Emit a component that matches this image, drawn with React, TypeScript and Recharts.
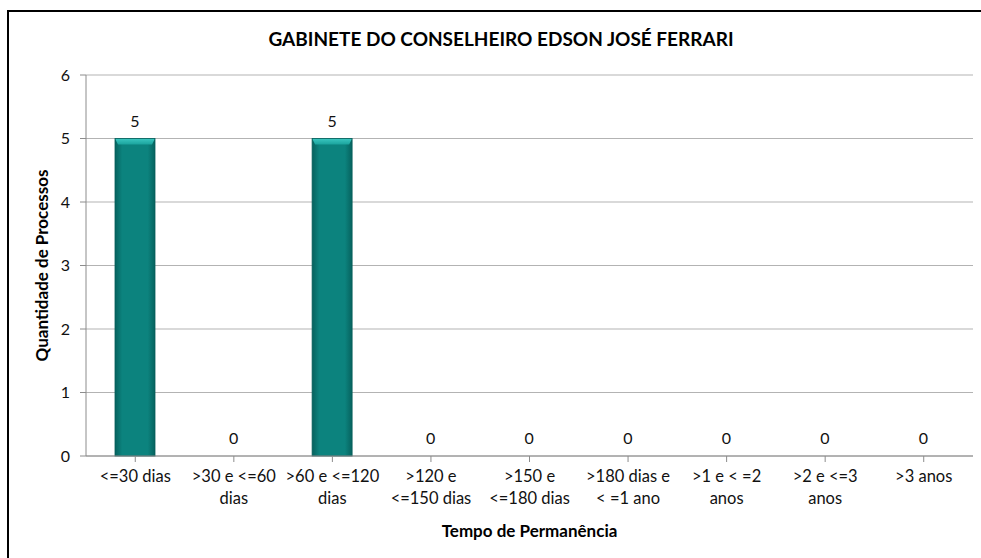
import React from 'react';
import {
  BarChart,
  Bar,
  XAxis,
  YAxis,
  CartesianGrid,
  LabelList
} from 'recharts';

// categories (line breaks as in the original axis)
const categories = [
  '<=30 dias',
  '>30 e <=60\ndias',
  '>60 e <=120\ndias',
  '>120 e\n<=150 dias',
  '>150 e\n<=180 dias',
  '>180 dias e\n< =1 ano',
  '>1 e < =2\nanos',
  '>2 e <=3\nanos',
  '>3 anos'
];
const processos = [5, 0, 5, 0, 0, 0, 0, 0, 0];
const yTicks = [0, 1, 2, 3, 4, 5, 6];

const data = categories.map((c, i) => ({ cat: c, value: processos[i] }));

const FONT = 'Lato, "Open Sans", sans-serif';

const CatTick = (props: any) => {
  const { x, y, payload } = props;
  const lines = String(payload.value).split('\n');
  return (
    <text x={x} y={y} textAnchor="middle" fontFamily={FONT} fontSize={16.5} fill="#111">
      {lines.map((l, i) => (
        <tspan key={i} x={x} dy={i === 0 ? 18 : 22}>{l}</tspan>
      ))}
    </text>
  );
};

const CylBar = (props: any) => {
  const { x, y, width, height } = props;
  if (!height || height <= 0) return null;
  const cap = 6;
  return (
    <g>
      <rect x={x} y={y} width={width} height={height} fill="url(#barBody)" />
      <path
        d={`M${x},${y} L${x + width},${y} L${x + width - 3},${y + cap} L${x + 3},${y + cap} Z`}
        fill="url(#barCap)"
      />
      <rect x={x} y={y} width={width} height={height} fill="none" stroke="#065e5a" strokeWidth={0.8} />
    </g>
  );
};

export default function App() {
  return (
    <div style={{ position: 'absolute', left: 0, top: 0, width: 981, height: 558, background: '#fff' }}>
      <div
        style={{
          position: 'absolute',
          left: 7,
          top: 10,
          width: 974,
          height: 548,
          borderTop: '2px solid #000',
          borderLeft: '2px solid #000',
          boxSizing: 'border-box'
        }}
      />
      <div
        style={{
          position: 'absolute',
          left: 0,
          top: 27,
          width: 1002,
          textAlign: 'center',
          fontFamily: FONT,
          fontWeight: 'bold',
          fontSize: 19,
          color: '#000'
        }}
      >
        GABINETE DO CONSELHEIRO EDSON JOSÉ FERRARI
      </div>
      <BarChart
        width={981}
        height={558}
        data={data}
        margin={{ top: 75, right: 8, bottom: 12, left: 0 }}
        barSize={40}
        style={{ position: 'absolute', left: 0, top: 0 }}
      >
        <defs>
          <linearGradient id="barBody" x1="0" y1="0" x2="1" y2="0">
            <stop offset="0%" stopColor="#06625e" />
            <stop offset="18%" stopColor="#0c837e" />
            <stop offset="82%" stopColor="#0c837e" />
            <stop offset="100%" stopColor="#06625e" />
          </linearGradient>
          <linearGradient id="barCap" x1="0" y1="0" x2="0" y2="1">
            <stop offset="0%" stopColor="#3cc7c0" />
            <stop offset="100%" stopColor="#1aa39d" />
          </linearGradient>
        </defs>
        <CartesianGrid vertical={false} stroke="#b3b3b3" />
        <XAxis
          dataKey="cat"
          interval={0}
          height={90}
          tickSize={6}
          axisLine={{ stroke: '#8c8c8c' }}
          tickLine={{ stroke: '#8c8c8c' }}
          tick={<CatTick />}
          label={{
            value: 'Tempo de Permanência',
            position: 'insideBottom',
            offset: 9,
            fontFamily: FONT,
            fontWeight: 'bold',
            fontSize: 17,
            fill: '#000'
          }}
        />
        <YAxis
          width={86}
          domain={[0, 6]}
          ticks={yTicks}
          tickSize={6}
          tickMargin={10}
          axisLine={{ stroke: '#8c8c8c' }}
          tickLine={{ stroke: '#8c8c8c' }}
          tick={{ fontFamily: FONT, fontSize: 16, fill: '#111' }}
          label={{
            value: 'Quantidade de Processos',
            angle: -90,
            position: 'center',
            dx: -1,
            fontFamily: FONT,
            fontWeight: 'bold',
            fontSize: 17,
            fill: '#000'
          }}
        />
        <Bar dataKey="value" shape={<CylBar />} isAnimationActive={false}>
          <LabelList
            dataKey="value"
            position="top"
            offset={12}
            style={{ fontFamily: FONT, fontSize: 16, fill: '#111' }}
          />
        </Bar>
      </BarChart>
    </div>
  );
}
